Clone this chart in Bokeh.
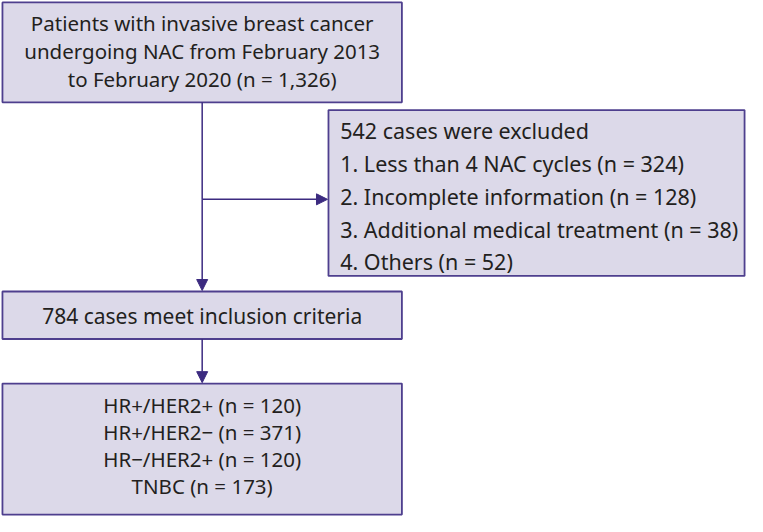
from bokeh.plotting import figure
from bokeh.models import Range1d, Arrow, NormalHead, ColumnDataSource
from bokeh.core.properties import value
from bokeh.embed import file_html
from bokeh.resources import INLINE

# ---- data ----
total_n = 1326
excluded_n = 542
exclusion_reasons = ["Less than 4 NAC cycles", "Incomplete information",
                     "Additional medical treatment", "Others"]
exclusion_counts = [324, 128, 38, 52]
included_n = 784
subtypes = ["HR+/HER2+", "HR+/HER2\u2212", "HR\u2212/HER2+", "TNBC"]
subtype_counts = [120, 371, 120, 173]

# ---- layout (reference pixel space, y downward) ----
W, H = 763, 532
FILL = "#dcd9e9"
EDGE = "#4e3f8e"
ARROW = "#3c2b80"
TXT = "#231f20"
FONT = value("Noto Sans")

boxes = dict(left=[2, 335, 2, 2], right=[410, 760, 410, 410],
             top=[2, 113, 300, 395], bottom=[105, 284, 349, 530])

p = figure(width=747, height=516, output_backend="svg", toolbar_location=None,
           x_range=Range1d(0, W), y_range=Range1d(H, 0), min_border=0)
p.axis.visible = False
p.grid.visible = False
p.outline_line_color = None
p.background_fill_color = "white"

p.quad(source=ColumnDataSource(boxes), left="left", right="right", top="top",
       bottom="bottom", fill_color=FILL, line_color=EDGE, line_width=1.8)

# box 1 text
t1 = ["Patients with invasive breast cancer",
      "undergoing NAC from February 2013",
      f"to February 2020 (n = {total_n:,})"]
p.text(x=[206] * 3, y=[23, 52, 81], text=t1, text_font=FONT, text_font_size="20.5px",
       text_align="center", text_baseline="middle", text_color=TXT)

# box 2 text
t2 = [f"{excluded_n} cases were excluded"] + [
    f"{i + 1}. {r} (n = {c})" for i, (r, c) in enumerate(zip(exclusion_reasons, exclusion_counts))]
p.text(x=[347] * 5, y=[134, 168, 202, 236, 269], text=t2, text_font=FONT,
       text_font_size="21.5px", text_align="left", text_baseline="middle", text_color=TXT)

# box 3 text
p.text(x=[206], y=[325], text=[f"{included_n} cases meet inclusion criteria"],
       text_font=FONT, text_font_size="21px", text_align="center",
       text_baseline="middle", text_color=TXT)

# box 4 text
t4 = [f"{s} (n = {c})" for s, c in zip(subtypes, subtype_counts)]
p.text(x=[206] * 4, y=[417, 445, 473, 501], text=t4, text_font=FONT,
       text_font_size="20.5px", text_align="center", text_baseline="middle", text_color=TXT)

# connectors
p.segment(x0=[206], y0=[105], x1=[206], y1=[205], line_color=ARROW, line_width=1.5)
for (xs, ys, xe, ye) in [(206, 205, 334, 205), (206, 205, 206, 299), (206, 349, 206, 394)]:
    p.add_layout(Arrow(end=NormalHead(size=11, fill_color=ARROW, line_color=ARROW),
                       x_start=xs, y_start=ys, x_end=xe, y_end=ye,
                       line_color=ARROW, line_width=1.5))

open("out.html", "w").write(file_html(p, INLINE))
